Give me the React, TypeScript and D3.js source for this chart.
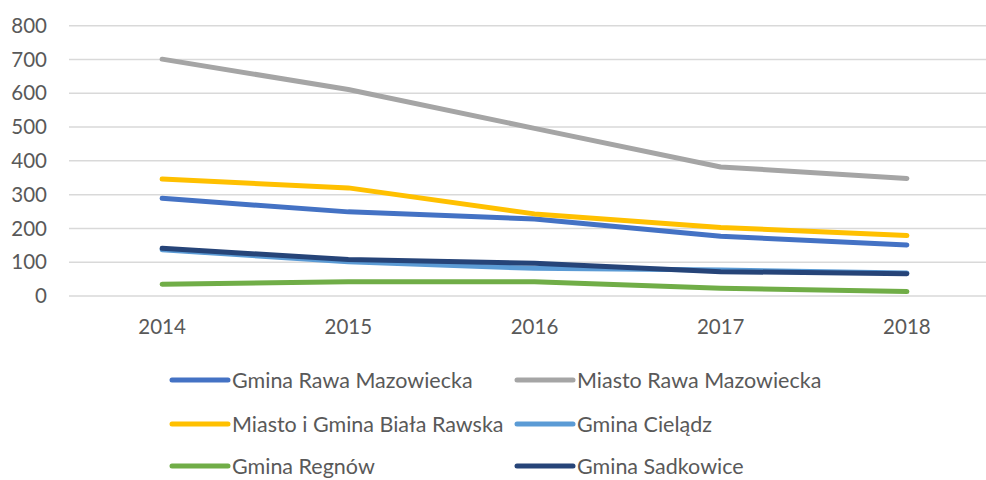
import React from "react";
import * as d3 from "d3";

const years = ["2014", "2015", "2016", "2017", "2018"];
const yTicks = [0, 100, 200, 300, 400, 500, 600, 700, 800];

const seriesNames = [
  "Gmina Rawa Mazowiecka",
  "Miasto Rawa Mazowiecka",
  "Miasto i Gmina Biała Rawska",
  "Gmina Cielądz",
  "Gmina Regnów",
  "Gmina Sadkowice",
];
const gminaRawa = [289, 249, 228, 177, 151];
const miastoRawa = [701, 611, 496, 382, 348];
const bialaRawska = [346, 320, 243, 203, 179];
const cieladz = [137, 101, 82, 77, 68];
const regnow = [35, 42, 42, 23, 13];
const sadkowice = [141, 108, 97, 72, 66];
const colors = ["#4472C4", "#A5A5A5", "#FFC000", "#5B9BD5", "#70AD47", "#264478"];

const allValues = [gminaRawa, miastoRawa, bialaRawska, cieladz, regnow, sadkowice];

export default function App() {
  const W = 986, H = 480;
  const x = d3.scaleBand().domain(years).range([69, 1000]);
  const y = d3.scaleLinear().domain([0, 800]).range([296, 25.7]);
  const line = d3
    .line<number>()
    .x((_, i) => (x(years[i]) as number) + x.bandwidth() / 2)
    .y((d) => y(d));
  const font = "Lato, 'Open Sans', sans-serif";
  const legendPos = [
    [172, 380], [517, 380],
    [172, 424], [517, 424],
    [172, 466], [517, 466],
  ];
  return (
    <svg width={W} height={H} style={{ position: "absolute", left: 0, top: 0, background: "#fff" }}>
      {yTicks.map((t) => (
        <g key={t}>
          <line x1={69} x2={1000} y1={y(t)} y2={y(t)} stroke="#d9d9d9" strokeWidth={1.5} />
          <text x={47} y={y(t)} dy="0.35em" textAnchor="end" fontFamily={font} fontSize={20.5} fill="#595959">
            {t}
          </text>
        </g>
      ))}
      {years.map((yr) => (
        <text key={yr} x={(x(yr) as number) + x.bandwidth() / 2} y={327} dy="0.35em" textAnchor="middle" fontFamily={font} fontSize={20.5} fill="#595959">
          {yr}
        </text>
      ))}
      {allValues.map((vals, i) => (
        <path key={i} d={line(vals) || ""} fill="none" stroke={colors[i]} strokeWidth={5} strokeLinecap="round" strokeLinejoin="round" />
      ))}
      {seriesNames.map((n, i) => {
        const [lx, ly] = legendPos[i];
        return (
          <g key={n}>
            <line x1={lx} x2={lx + 56} y1={ly} y2={ly} stroke={colors[i]} strokeWidth={5} strokeLinecap="round" />
            <text x={lx + 60} y={ly} dy="0.35em" fontFamily={font} fontSize={21.5} fill="#595959">
              {n}
            </text>
          </g>
        );
      })}
    </svg>
  );
}
